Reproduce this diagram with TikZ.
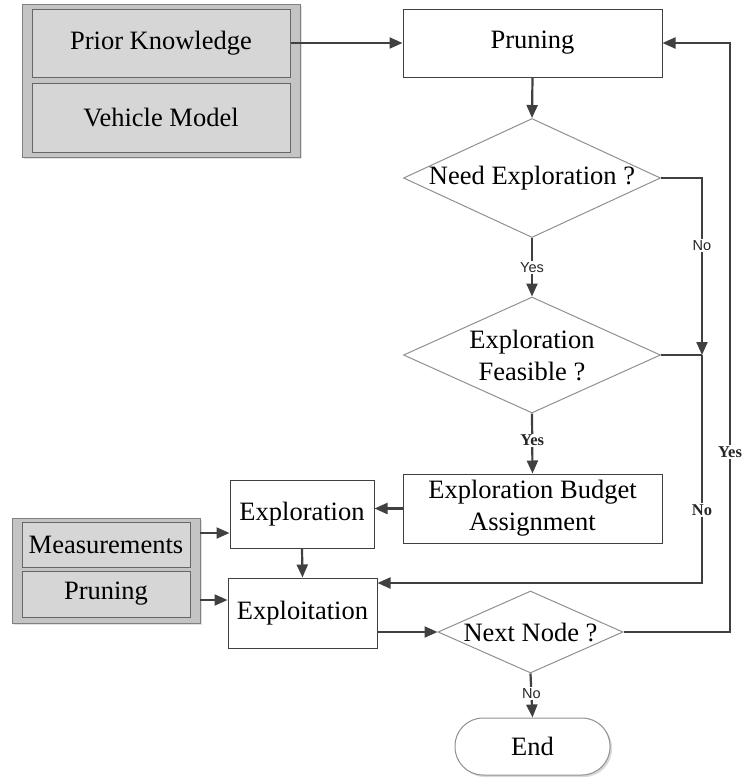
\documentclass[tikz,border=0pt]{standalone}
\usepackage{fontspec}
\setmainfont{Liberation Serif}
\newfontfamily\labsans{Liberation Sans}
\usetikzlibrary{shapes.geometric,arrows.meta,calc,shadows}
\definecolor{ln}{HTML}{404040}
\definecolor{dg}{HTML}{909090}
\definecolor{gout}{HTML}{C4C4C4}
\definecolor{gin}{HTML}{D6D6D6}
\begin{document}
\begin{tikzpicture}[x=1pt,y=-1pt,
  mainfont/.style={font=\fontsize{26.5}{32}\selectfont},
  box/.style={draw=ln,line width=1pt,fill=white,minimum width=#1,inner sep=0pt,align=center,mainfont},
  box/.default=100pt,
  grpout/.style={draw=gray,line width=1pt,fill=gout,inner sep=0pt,drop shadow={shadow xshift=2pt,shadow yshift=-2pt,fill=black!20,opacity=0.6}},
  grpin/.style={draw=ln!80,line width=1pt,fill=gin,inner sep=0pt,align=center,mainfont},
  dia/.style={diamond,draw=dg,line width=1pt,fill=white,inner sep=0pt},
  txt/.style={inner sep=0pt,align=center,mainfont},
  arr/.style={draw=ln,line width=2.2pt,-{Triangle[length=13pt,width=11pt]}},
  ln/.style={draw=ln,line width=2.2pt},
  slab/.style={fill=white,inner sep=1.5pt,font=\labsans\fontsize{14.5}{16}\selectfont,text=black!85},
  rlab/.style={fill=white,inner sep=1.5pt,font=\fontsize{16.5}{18}\selectfont\bfseries,text=black!85}
]
\useasboundingbox (0,0) rectangle (745,780);
% top-left group
\node[grpout,minimum width=278pt,minimum height=153pt] (grp1) at (161,80.5) {};
\node[grpin,minimum width=258pt,minimum height=68pt] (pk) at (161,43) {Prior Knowledge};
\node[grpin,minimum width=258pt,minimum height=69pt] (vm) at (161,117.5) {Vehicle Model};
% pruning
\node[box=259pt,minimum height=68pt] (prun) at (532.5,43) {Pruning};
% diamonds
\node[dia,minimum width=257pt,minimum height=119pt] (d1) at (532,178) {};
\node[txt] (d1t) at (d1.center) {Need Exploration ?};
\node[dia,minimum width=257pt,minimum height=116pt] (d2) at (532,355) {};
\node[txt] (d2t) at (d2.center) {Exploration\\Feasible ?};
% budget
\node[box=259pt,minimum height=69pt] (budget) at (532.5,508.5) {Exploration Budget\\Assignment};
% exploration / exploitation
\node[box=144pt,minimum height=68pt] (expl) at (302,514) {Exploration};
\node[box=149pt,minimum height=70pt] (exploit) at (302.5,613) {Exploitation};
% bottom-left group
\node[grpout,minimum width=188pt,minimum height=105pt] (grp2) at (106,570.5) {};
\node[grpin,minimum width=168pt,minimum height=45pt] (meas) at (106,544.5) {Measurements};
\node[grpin,minimum width=168pt,minimum height=46pt] (prun2) at (106,594) {Pruning};
% next node
\node[dia,minimum width=185pt,minimum height=82pt] (d3) at (530.5,632) {};
\node[txt] (d3t) at (d3.center) {Next Node ?};
% end
\node[draw=dg,line width=1pt,fill=white,rounded corners=28pt,minimum width=155pt,minimum height=57pt,inner sep=0pt,mainfont,drop shadow={shadow xshift=2pt,shadow yshift=-2pt,fill=black!25,opacity=0.6}] (endn) at (532.5,746.5) {End};
% coordinates
\coordinate (j) at (702,355);
\coordinate (c2) at (702,583);
\coordinate (c3) at (730,0);
% connectors
\draw[arr] (pk.east) -- (prun.west);
\draw[arr] (prun.south) -- (d1.north);
\draw[arr] (d1.south) -- node[slab,pos=0.5]{Yes} (d2.north);
\draw[arr] (d1.east) -- (d1.east -| j) -- node[slab,pos=0.38]{No} (j);
\draw[ln] (d2.east) -- (j);
\draw[arr] (j) -- node[rlab,pos=0.68]{No} (c2) -- (c2 -| exploit.east);
\draw[arr] (d2.south) -- node[rlab,pos=0.45]{Yes} (budget.north);
\draw[arr] (budget.west) -- (budget.west -| expl.east);
\draw[arr] (expl.south) -- (exploit.north);
\draw[arr] ($(expl.west)+(-30,19)$) -- ($(expl.west)+(0,19)$);
\draw[arr] ($(exploit.west)+(-28,-13)$) -- ($(exploit.west)+(0,-13)$);
\draw[arr] (exploit.east |- d3.west) -- (d3.west);
\draw[arr] (d3.east) -- (d3.east -| c3) -- node[rlab,pos=0.305]{Yes} (c3 |- prun.east) -- (prun.east);
\draw[arr] (d3.south) -- node[slab,pos=0.45]{No} (endn.north);
\end{tikzpicture}
\end{document}
